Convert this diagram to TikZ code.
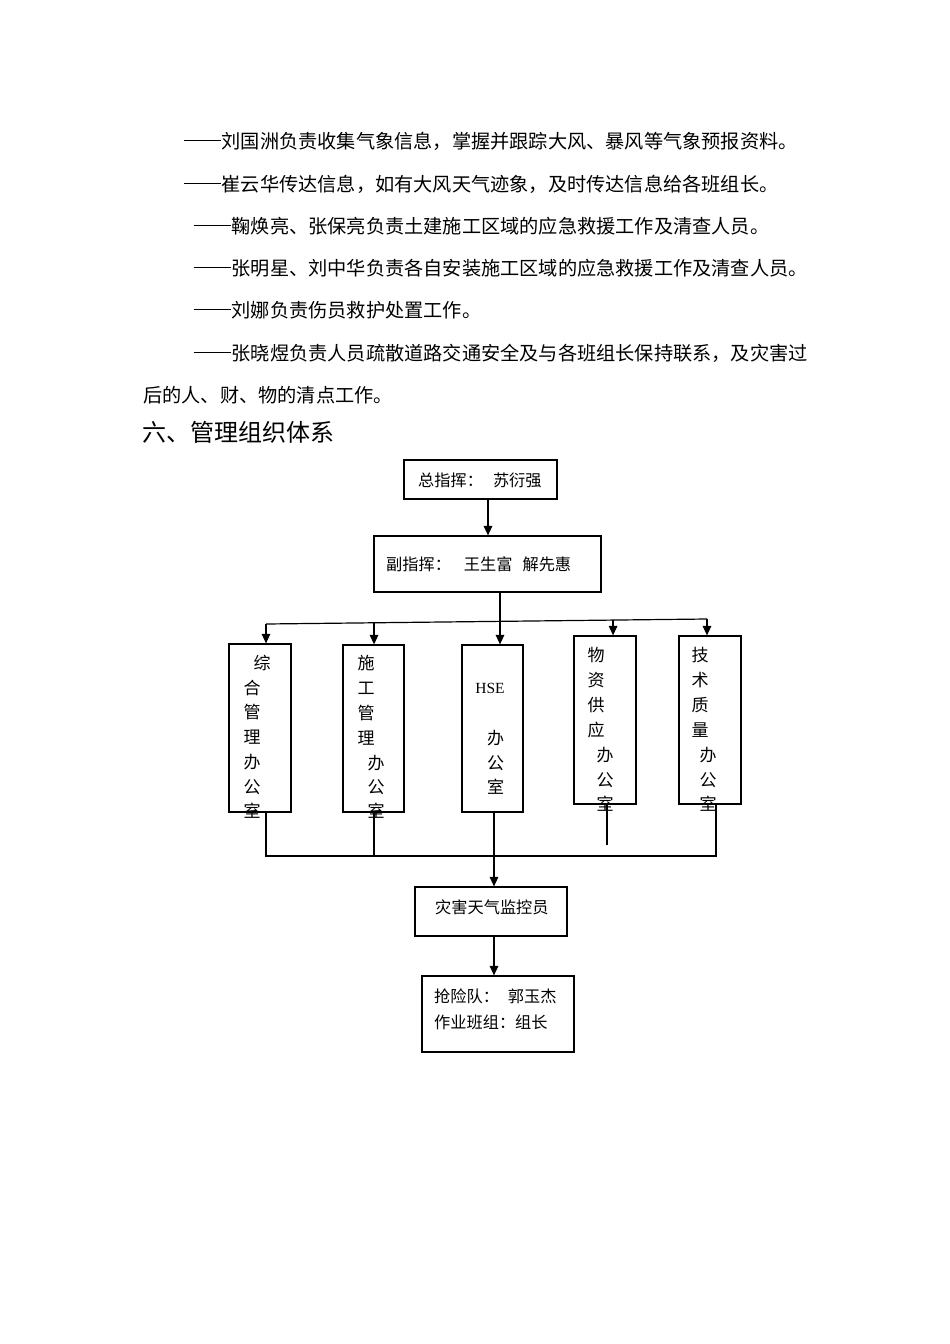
\documentclass[tikz,border=0pt]{standalone}
\usepackage{fontspec}
\setmainfont{Liberation Serif}
\newfontfamily\cjk{Noto Sans CJK SC}
\usetikzlibrary{arrows.meta,calc}
\newcommand\myddash{\makebox[2em][c]{\rule[0.36em]{1.96em}{0.055em}}}
\begin{document}
\begin{tikzpicture}[x=1pt,y=-1pt,
  box/.style={draw, line width=1.2pt, inner sep=0pt},
  ln/.style={line width=1.2pt},
  arr/.style={line width=1.3pt, -{Triangle[length=9.5pt,width=8.5pt]}},
  body/.style={anchor=west, inner sep=0pt, font=\cjk\fontsize{19.2}{19.2}\selectfont},
  head/.style={anchor=west, inner sep=0pt, font=\cjk\fontsize{24}{24}\selectfont},
  btext/.style={anchor=west, inner sep=0pt, font=\cjk\fontsize{16.2}{16.2}\selectfont},
  vch/.style={inner sep=0pt, font=\cjk\fontsize{17}{17}\selectfont},
]
\fill[white] (0,0) rectangle (950,1344);
\useasboundingbox (0,0) rectangle (950,1344);

% paragraph text
\node[body] (t1) at (183,141) {\myddash 刘国洲负责收集气象信息，掌握并跟踪大风、暴风等气象预报资料。};
\node[body] (t2) at (183,184) {\myddash 崔云华传达信息，如有大风天气迹象，及时传达信息给各班组长。};
\node[body] (t3) at (193,226) {\myddash 鞠焕亮、张保亮负责土建施工区域的应急救援工作及清查人员。};
\node[body] (t4) at (193,268) {\myddash 张明星、刘中华负责各自安装施工区域的应急救援工作及清查人员。};
\node[body] (t5) at (193,310) {\myddash 刘娜负责伤员救护处置工作。};
\node[body] (t6) at (193,353) {\myddash 张晓煜负责人员疏散道路交通安全及与各班组长保持联系，及灾害过};
\node[body] (t7) at (143,395) {后的人、财、物的清点工作。};
\node[head] (hd) at (142,432) {六、管理组织体系};

% boxes
\node[box, minimum width=153pt, minimum height=39pt] (b1) at (480.5,479.5) {};
\node[box, minimum width=227pt, minimum height=56pt] (b2) at (487.5,564) {};
\node[box, minimum width=62pt, minimum height=168pt] (A) at (260,728) {};
\node[box, minimum width=61pt, minimum height=167pt] (B) at (373.5,728.5) {};
\node[box, minimum width=61pt, minimum height=167pt] (C) at (492.5,728.5) {};
\node[box, minimum width=62pt, minimum height=168pt] (D) at (605,720) {};
\node[box, minimum width=62pt, minimum height=168pt] (E) at (710,720) {};
\node[box, minimum width=152pt, minimum height=49pt] (F) at (491,911.5) {};
\node[box, minimum width=152pt, minimum height=76pt] (G) at (498,1014) {};

% box texts
\node[btext] (b1t) at (418,480) {总指挥：\hspace{10pt}苏衍强};
\node[btext] (b2t) at (386,564) {副指挥：\hspace{13pt}王生富\hspace{10pt}解先惠};
\node[btext] (ft) at (435,907) {灾害天气监控员};
\node[btext] (g1) at (434,996) {抢险队：\hspace{9pt}郭玉杰};
\node[btext] (g2) at (434,1022) {作业班组：组长};

\foreach \c/\x/\y [count=\i] in {综/262/663, 合/252/688, 管/252/712, 理/252/737, 办/252/762, 公/252/787, 室/252/811}
  \node[vch] (a\i) at (\x,\y) {\c};
\foreach \c/\x/\y [count=\i] in {施/366/663, 工/366/688, 管/366/713, 理/366/738, 办/376/763, 公/376/787, 室/376/811}
  \node[vch] (bb\i) at (\x,\y) {\c};
\node[inner sep=0pt, font=\fontsize{15.5}{15.5}\selectfont] (hse) at (490,688) {HSE};
\foreach \c/\x/\y [count=\i] in {办/495.5/738, 公/495.5/763, 室/495.5/787}
  \node[vch] (c\i) at (\x,\y) {\c};
\foreach \c/\x/\y [count=\i] in {物/596/655, 资/596/680, 供/596/705, 应/596/730, 办/605/755, 公/605/780, 室/605/804}
  \node[vch] (d\i) at (\x,\y) {\c};
\foreach \c/\x/\y [count=\i] in {技/700/655, 术/700/680, 质/700/705, 量/700/730, 办/708/755, 公/708/780, 室/708/804}
  \node[vch] (e\i) at (\x,\y) {\c};

% connectors
\draw[arr] ([xshift=7.5pt]b1.south) -- ([xshift=7.5pt]b1.south |- b2.north);
\draw[arr] ([xshift=12.5pt]b2.south) -- ([xshift=12.5pt]b2.south |- C.north);

\coordinate (bl) at (266,624);
\coordinate (br) at (707,619);
\coordinate (tB) at ($(bl)!0.245!(br)$);
\coordinate (tD) at ($(bl)!0.787!(br)$);
\draw[ln] (bl) -- (br);
\draw[arr] (bl) -- (bl |- A.north);
\draw[arr] (tB) -- (tB |- B.north);
\draw[arr] (tD) -- (tD |- D.north);
\draw[arr] (br) -- (br |- E.north);

\coordinate (ml) at (266,856);
\coordinate (mr) at (716,856);
\draw[ln] (ml |- A.south) -- (ml) -- (mr) -- (mr |- E.south);
\draw[ln] ([xshift=0.5pt]B.south) -- ([xshift=0.5pt]B.south |- ml);
\draw[arr] ([xshift=1.5pt]C.south) -- ([xshift=1.5pt]C.south |- F.north);
\coordinate (dend) at (607,845);
\draw[ln] (dend |- D.south) -- (dend);
\draw[arr] ([xshift=3pt]F.south) -- ([xshift=3pt]F.south |- G.north);
\end{tikzpicture}
\end{document}
